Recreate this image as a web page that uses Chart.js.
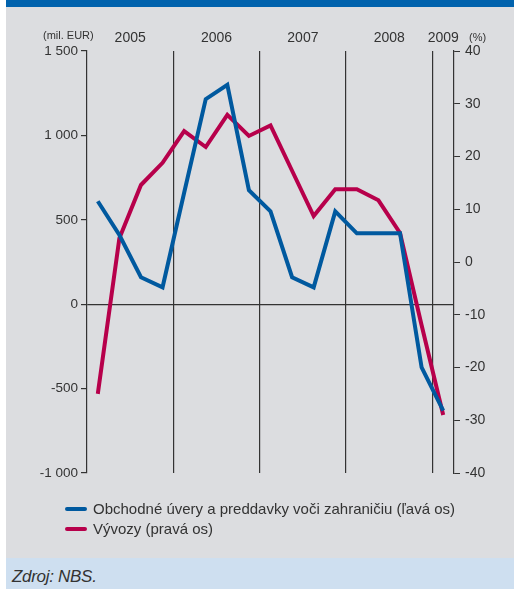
<!DOCTYPE html>
<html>
<head>
<meta charset="utf-8">
<script src="https://cdn.jsdelivr.net/npm/chart.js@4/dist/chart.umd.min.js"></script>
<style>
  body { margin: 0; background: #fff; font-family: "Liberation Sans", Arial, sans-serif; color: #333; }
  #page { position: relative; width: 514px; height: 589px; overflow: hidden; }
  #topbar { position: absolute; left: 6px; top: 0; width: 508px; height: 7px; background: #0062ad; }
  #panel { position: absolute; left: 6px; top: 7px; width: 508px; height: 551px; background: #dcdde0; }
  #footer { position: absolute; left: 6px; top: 558px; width: 508px; height: 31px; background: #cedff0; }
  #footer span { position: absolute; left: 6px; top: 9px; font-size: 17px; font-style: italic; color: #333; letter-spacing: -0.3px; }
  canvas { position: absolute; left: 0; top: 0; }
  .unit { position: absolute; font-size: 11px; color: #333; }
  .legend { position: absolute; left: 65px; font-size: 15px; color: #333; line-height: 18px; }
  .legend i { display: inline-block; width: 22px; height: 4px; border-radius: 2px; vertical-align: middle; margin-right: 6px; position: relative; top: -1px; }
</style>
</head>
<body>
<div id="page">
  <div id="topbar"></div>
  <div id="panel"></div>
  <div id="footer"><span>Zdroj: NBS.</span></div>
  <canvas id="chart" width="514" height="589"></canvas>
  <div class="unit" style="left:43px; top:29px;">(mil. EUR)</div>
  <div class="unit" style="left:469px; top:31px;">(%)</div>
  <div class="legend" style="top:500px;"><i style="background:#00599f"></i>Obchodné úvery a preddavky voči zahraničiu (ľavá os)</div>
  <div class="legend" style="top:520px;"><i style="background:#b7004b"></i>Vývozy (pravá os)</div>
</div>
<script>
// quarters 2005Q1 .. 2009Q1
const quarters = ["I.05", "II.05", "III.05", "IV.05", "I.06", "II.06", "III.06", "IV.06",
  "I.07", "II.07", "III.07", "IV.07", "I.08", "II.08", "III.08", "IV.08", "I.09"];
const years = ["2005", "2006", "2007", "2008", "2009"];
const yearPos = [2, 6, 10, 14, 16.5];
const yearBreaks = [4, 8, 12, 16];

// mil. EUR (left axis)
const tradeCredits = [610, 410, 160, 100, 660, 1215, 1300, 675, 550, 160, 100, 550, 420, 420, 420, -375, -630];
// % (right axis)
const exports = [-25, 4.5, 14.6, 18.8, 24.8, 21.8, 27.9, 23.9, 25.9, 17.3, 8.7, 13.8, 13.8, 11.7, 5.5, -12, -29];

const leftTicks = [-1000, -500, 0, 500, 1000, 1500];
const rightTicks = [-40, -30, -20, -10, 0, 10, 20, 30, 40];

function fmt(v) {
  return String(v).replace(/\B(?=(\d{3})+(?!\d))/g, " ");
}

const family = "'Liberation Sans', Arial, sans-serif";
const dark = "#333";

new Chart(document.getElementById("chart"), {
  type: "line",
  data: {
    datasets: [
      {
        label: "Obchodné úvery a preddavky voči zahraničiu (ľavá os)",
        data: tradeCredits.map((v, i) => ({ x: i + 0.5, y: v })),
        borderColor: "#00599f",
        borderWidth: 4,
        pointRadius: 0,
        tension: 0,
        yAxisID: "y",
      },
      {
        label: "Vývozy (pravá os)",
        data: exports.map((v, i) => ({ x: i + 0.5, y: v })),
        borderColor: "#b7004b",
        borderWidth: 4,
        pointRadius: 0,
        tension: 0,
        yAxisID: "y1",
      },
    ],
  },
  options: {
    responsive: false,
    animation: false,
    layout: { padding: { left: 0, right: 0, top: 0, bottom: 116 } },
    plugins: { legend: { display: false }, tooltip: { enabled: false } },
    scales: {
      x: {
        type: "linear",
        position: "bottom",
        min: 0,
        max: quarters.length,
        afterBuildTicks: (s) => { s.ticks = yearBreaks.map((v) => ({ value: v })); },
        afterFit: (s) => { s.height = 0; },
        ticks: { display: false },
        border: { display: false },
        grid: { color: dark, lineWidth: 1.2, drawTicks: false },
      },
      x2: {
        type: "linear",
        position: "top",
        min: 0,
        max: quarters.length,
        afterBuildTicks: (s) => { s.ticks = yearPos.map((v) => ({ value: v })); },
        afterFit: (s) => { s.height = 51; },
        ticks: {
          autoSkip: false,
          maxRotation: 0,
          padding: -4,
          color: dark,
          font: { family: family, size: 14 },
          callback: (v, i) => years[i],
        },
        border: { display: false },
        grid: { display: false },
      },
      y: {
        position: "left",
        min: -1000,
        max: 1500,
        afterBuildTicks: (s) => { s.ticks = leftTicks.map((v) => ({ value: v })); },
        afterFit: (s) => { s.width = 87; },
        ticks: { color: dark, font: { family: family, size: 13.5 }, padding: 3, callback: (v) => fmt(v) },
        border: { display: true, color: dark, width: 1.2 },
        grid: {
          color: (c) => (c.tick && c.tick.value === 0 ? dark : "transparent"),
          lineWidth: 1.2,
          tickColor: dark,
          tickLength: 6,
        },
      },
      y1: {
        position: "right",
        min: -40,
        max: 40,
        afterBuildTicks: (s) => { s.ticks = rightTicks.map((v) => ({ value: v })); },
        afterFit: (s) => { s.width = 60; },
        ticks: { color: dark, font: { family: family, size: 14 }, padding: 5 },
        border: { display: true, color: dark, width: 1.2 },
        grid: { drawOnChartArea: false, color: dark, tickColor: dark, tickLength: 6 },
      },
    },
  },
});
</script>
</body>
</html>
